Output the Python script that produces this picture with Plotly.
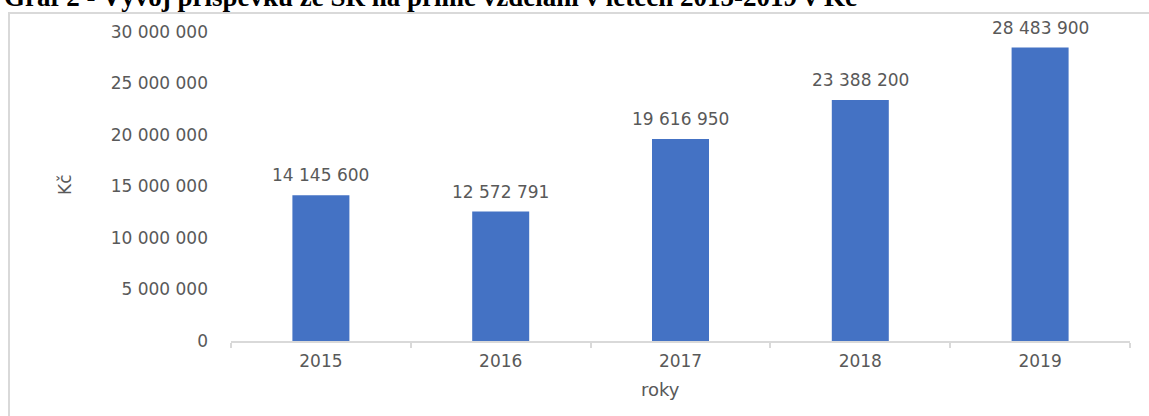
import plotly.graph_objects as go

# Data
roky = ["2015", "2016", "2017", "2018", "2019"]
prispevek = [14145600, 12572791, 19616950, 23388200, 28483900]
y_ticks = [0, 5000000, 10000000, 15000000, 20000000, 25000000, 30000000]

W, H = 1149, 416
M_L, M_R, M_T, M_B = 231, 19, 32, 75
PW, PH = W - M_L - M_R, H - M_T - M_B


def px_x(p):
    return (p - M_L) / PW


def px_y(p):
    return (H - M_B - p) / PH


def fmt(v):
    return f"{v:,}".replace(",", " ")


GREY = "#595959"
FONT = "DejaVu Sans"

fig = go.Figure(
    go.Bar(
        x=roky,
        y=prispevek,
        marker=dict(color="#4472C4", line=dict(width=0)),
        hoverinfo="skip",
    )
)

# value labels above bars (category index used as x position)
annotations = []
for i, v in enumerate(prispevek):
    annotations.append(dict(
        x=i, y=v, xref="x", yref="y", text=fmt(v), showarrow=False,
        yanchor="bottom", yshift=8,
        font=dict(family=FONT, size=17, color=GREY),
    ))

annotations += [
    dict(xref="paper", yref="paper", x=px_x(2), y=px_y(14), xanchor="left", yanchor="bottom",
         text="<b>Graf 2 - Vývoj příspěvku ze SR na přímé vzdělání v letech 2015-2019 v Kč</b>",
         showarrow=False, font=dict(family="Liberation Serif", size=27, color="black")),
    dict(xref="paper", yref="paper", x=px_x(65), y=px_y(185), xanchor="center", yanchor="middle",
         text="Kč", textangle=-90,
         showarrow=False, font=dict(family=FONT, size=17, color=GREY)),
    dict(xref="paper", yref="paper", x=px_x(660), y=px_y(389), xanchor="center", yanchor="middle",
         text="roky",
         showarrow=False, font=dict(family=FONT, size=18, color=GREY)),
]

fig.update_layout(
    width=W, height=H,
    margin=dict(l=M_L, r=M_R, t=M_T, b=M_B),
    paper_bgcolor="white", plot_bgcolor="white",
    bargap=0.683,
    showlegend=False,
    annotations=annotations,
    shapes=[dict(type="rect", xref="paper", yref="paper",
                 x0=px_x(9), x1=px_x(1170), y0=px_y(440), y1=px_y(13),
                 line=dict(color="#d9d9d9", width=2), layer="below")],
)

fig.update_xaxes(
    type="category", range=[-0.5, len(roky) - 0.5],
    showline=True, linecolor="#d9d9d9", linewidth=2,
    ticks="outside", tickson="boundaries", ticklen=5, tickcolor="#d9d9d9", tickwidth=2,
    tickfont=dict(family=FONT, size=17, color=GREY),
    showgrid=False, ticklabelstandoff=4,
)

fig.update_yaxes(
    range=[0, 30000000],
    tickvals=y_ticks, ticktext=[fmt(v) for v in y_ticks],
    showgrid=False, zeroline=False, showline=False,
    tickfont=dict(family=FONT, size=17, color=GREY),
    ticklabelstandoff=22,
)

fig.write_html("out.html")
